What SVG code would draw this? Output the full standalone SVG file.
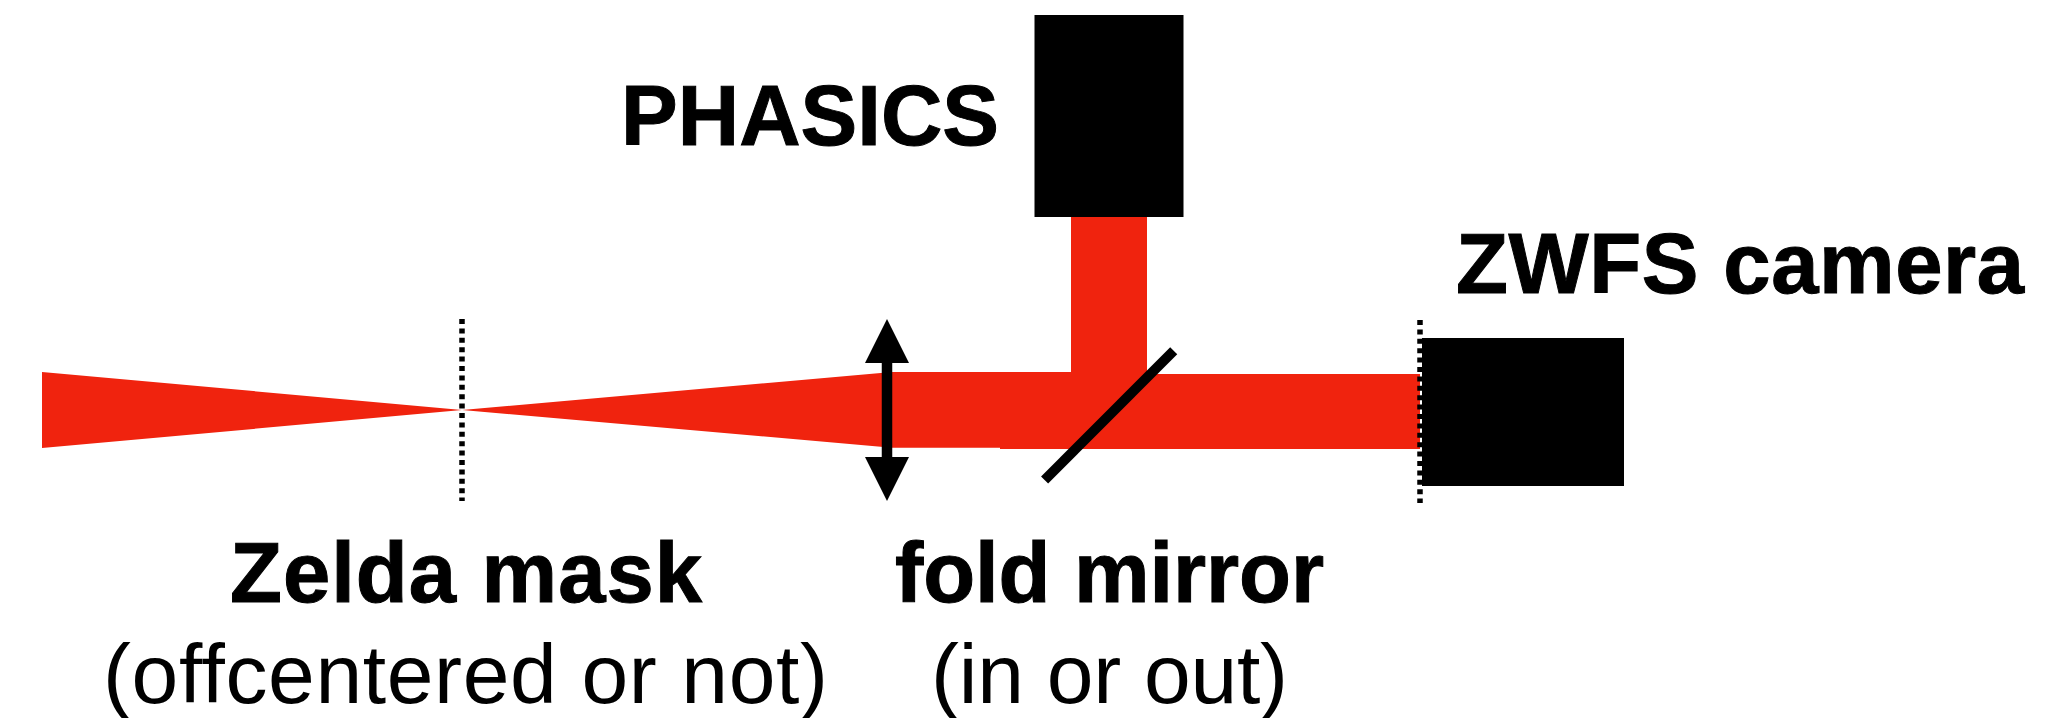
<svg xmlns="http://www.w3.org/2000/svg" width="2059" height="718" viewBox="0 0 2059 718">
<style>
.beam{fill:#f0230e}
.blk{fill:#000}
.dot{stroke:#000;stroke-width:5.5;stroke-dasharray:5 4.4;fill:none}
.b{font:bold 85px "Liberation Sans",Arial,sans-serif;fill:#000;stroke:#000;stroke-width:1}
.r{font:84px "Liberation Sans",Arial,sans-serif;fill:#000}
</style>
<rect width="2059" height="718" fill="#fff"/>
<g id="beam">
<polygon class="beam" points="42,372 42,448 462,410"/>
<polygon class="beam" points="462,410 892,372 892,447.7"/>
<path class="beam" d="M892,372H1071V216H1147V374H1420V449H1000V447.7H892Z"/>
</g>
<g id="phasics"><rect class="blk" x="1034.5" y="15" width="149" height="202"/>
<text class="b" x="621" y="145" textLength="378">PHASICS</text></g>
<g id="zwfs-camera"><rect class="blk" x="1422" y="338" width="202" height="148"/>
<text class="b" x="1456" y="293" textLength="568">ZWFS camera</text></g>
<g id="zelda-mask"><line class="dot" x1="462" y1="319" x2="462" y2="501"/>
<text class="b" x="230" y="602" textLength="472">Zelda mask</text>
<text class="r" x="103" y="703" textLength="725">(offcentered or not)</text></g>
<g id="fold-mirror"><line x1="1173.7" y1="350.8" x2="1044.6" y2="480" stroke="#000" stroke-width="10"/>
<text class="b" x="895" y="602" textLength="429">fold mirror</text>
<text class="r" x="931" y="703" textLength="357">(in or out)</text></g>
<g id="detector-plane"><line class="dot" x1="1420" y1="320" x2="1420" y2="503"/></g>
<g id="connectors">
<line x1="887" y1="360" x2="887" y2="460" stroke="#000" stroke-width="10.5"/>
<polygon class="blk" points="887,319 909,363 865,363"/>
<polygon class="blk" points="887,501 909,457 865,457"/>
</g>
</svg>
